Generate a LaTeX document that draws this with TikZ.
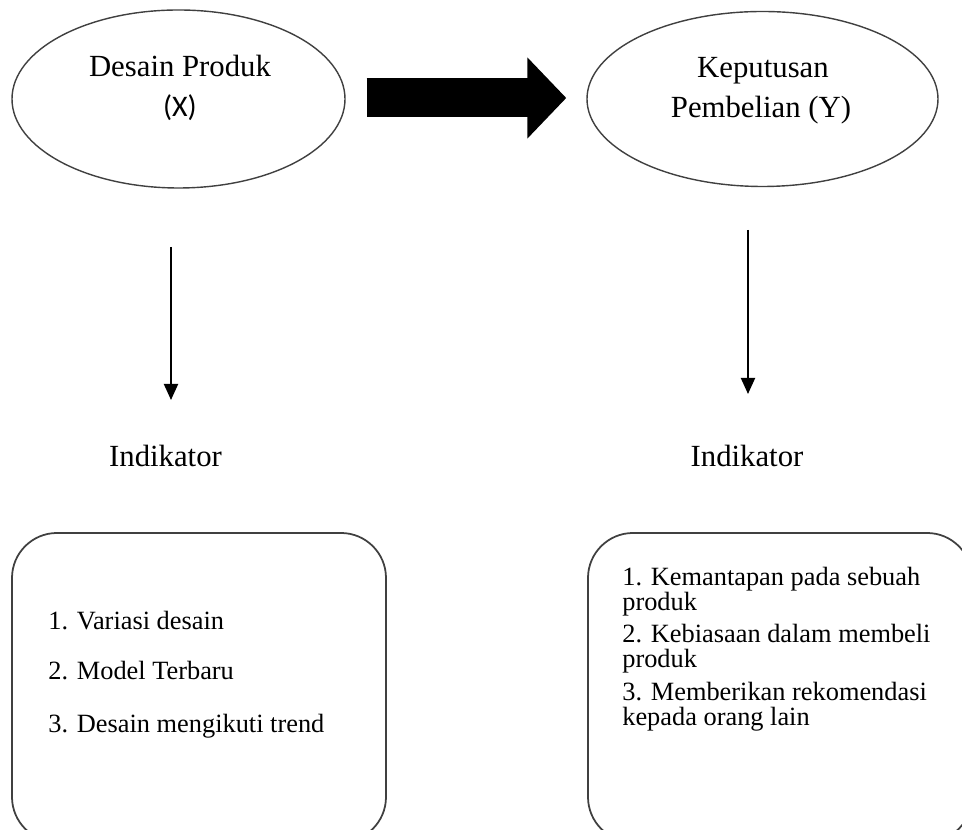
\documentclass[tikz,border=0pt]{standalone}
\usepackage{fontspec}
\setmainfont{Liberation Serif}
\newfontfamily\sansX{Carlito}
\usetikzlibrary{shapes.geometric, arrows.meta}

\tikzset{
    varell/.style={ellipse, draw=black!75, line width=0.8pt, inner sep=0pt},
    boxind/.style={rectangle, draw=black!75, line width=1pt, rounded corners=0.9cm},
    judul/.style={font=\fontsize{17.5}{21}\selectfont, anchor=base, inner sep=0pt},
    isi/.style={font=\fontsize{15}{18}\selectfont, anchor=base west, inner sep=0pt},
    panah/.style={line width=1.1pt, -{Triangle[length=0.32cm, width=0.28cm]}},
    panahbesar/.style={line width=0.78cm, -{Triangle[length=0.78cm, width=1.58cm]}}
}

\begin{document}
\begin{tikzpicture}
        \useasboundingbox (0,0) rectangle (19.24,16.6);
        % Variables
        \node[varell, minimum width=6.66cm, minimum height=3.56cm] (desain) at (3.57,14.62) {};
        \node[varell, minimum width=7.02cm, minimum height=3.5cm] (keputusan) at (15.25,14.62) {};
        \node[judul] (desainA) at (3.6,15.06) {Desain Produk};
        \node[judul, font=\sansX\fontsize{17}{20}\selectfont] (desainB) at (3.6,14.26) {(X)};
        \node[judul] (keputusanA) at (15.26,15.04) {Keputusan};
        \node[judul] (keputusanB) at (15.22,14.24) {Pembelian (Y)};
        % Big arrow X -> Y
        \draw[panahbesar] ([xshift=0.42cm, yshift=0.02cm]desain.east) -- ([xshift=-0.4cm, yshift=0.02cm]keputusan.west);
        % Down arrows
        \coordinate (awalL) at (3.42,11.66);
        \coordinate (ujungL) at (3.42,8.6);
        \coordinate (awalR) at (14.96,12.0);
        \coordinate (ujungR) at (14.96,8.72);
        \draw[panah] (awalL) -- (ujungL);
        \draw[panah] (awalR) -- (ujungR);
        \node[judul] (indL) at (3.31,7.26) {Indikator};
        \node[judul] (indR) at (14.94,7.26) {Indikator};
        % Indicator boxes
        \node[boxind, minimum width=7.48cm, minimum height=6.18cm] (boxL) at (3.98,2.85) {};
        \node[boxind, minimum width=7.68cm, minimum height=6.18cm] (boxR) at (15.6,2.85) {};
        \node[isi] (l1) at (0.96,4.0) {1. Variasi desain};
        \node[isi] (l2) at (0.96,3.0) {2. Model Terbaru};
        \node[isi] (l3) at (0.96,1.94) {3. Desain mengikuti trend};
        \node[isi] (r1) at (12.44,4.88) {1. Kemantapan pada sebuah};
        \node[isi] (r1b) at (12.44,4.38) {produk};
        \node[isi] (r2) at (12.44,3.74) {2. Kebiasaan dalam membeli};
        \node[isi] (r2b) at (12.44,3.24) {produk};
        \node[isi] (r3) at (12.44,2.58) {3. Memberikan rekomendasi};
        \node[isi] (r3b) at (12.44,2.08) {kepada orang lain};
\end{tikzpicture}
\end{document}
